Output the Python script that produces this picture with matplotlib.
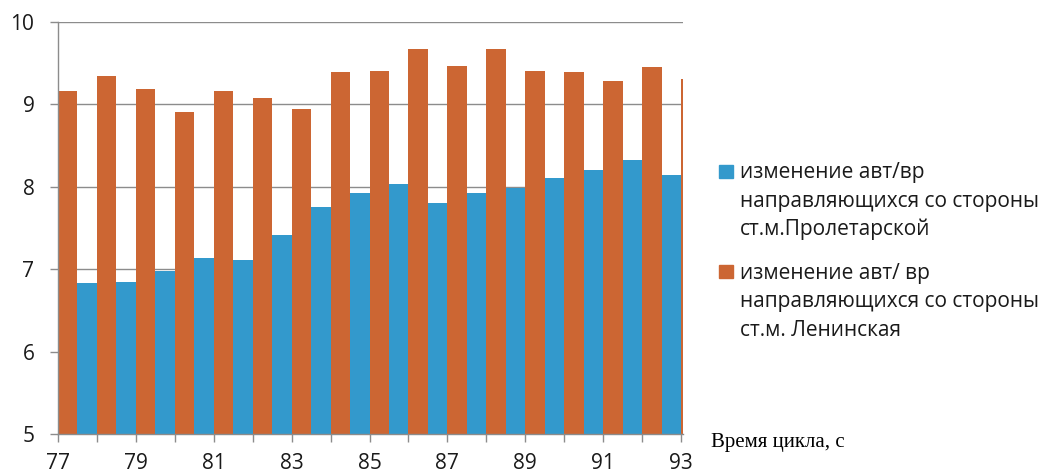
import matplotlib
matplotlib.use("Agg")
import matplotlib.pyplot as plt
from matplotlib.patches import Rectangle
import numpy as np

# время цикла, с
cycle_time = [77, 78, 79, 80, 81, 82, 83, 84, 85, 86, 87, 88, 89, 90, 91, 92, 93]

# со стороны ст.м. Пролетарской (первый столбец обрезан краем оси)
proletarskaya = [np.nan, 6.83, 6.84, 6.98, 7.14, 7.11, 7.42, 7.75, 7.92,
                 8.04, 7.80, 7.92, 7.99, 8.11, 8.20, 8.32, 8.14]
# со стороны ст.м. Ленинская
leninskaya = [9.16, 9.34, 9.19, 8.91, 9.16, 9.08, 8.94, 9.39, 9.41,
              9.67, 9.46, 9.67, 9.41, 9.39, 9.28, 9.45, 9.31]

x_ticks = [77, 79, 81, 83, 85, 87, 89, 91, 93]
y_ticks = [5, 6, 7, 8, 9, 10]

legend_labels = [
    ["изменение авт/вр", "направляющихся со стороны", "ст.м.Пролетарской"],
    ["изменение авт/ вр", "направляющихся со стороны", "ст.м. Ленинская"],
]

BLUE = "#3399cc"
ORANGE = "#cc6633"
GRID = "#8c8c8c"
TEXT = "#1a1a1a"

W, H = 1042, 472
fig = plt.figure(figsize=(W / 100, H / 100), dpi=100)


def fx(px):
    return px / W


def fy(py):
    return 1 - py / H


ax = fig.add_axes([fx(58), fy(434), fx(683) - fx(58), fy(22) - fy(434)])

x = np.array(cycle_time, dtype=float)
ax.bar(x - 0.25, proletarskaya, width=0.5, color=BLUE, zorder=2)
ax.bar(x + 0.25, leninskaya, width=0.5, color=ORANGE, zorder=2)

ax.set_xlim(77, 93.05)
ax.set_ylim(5, 10)
ax.set_yticks(y_ticks)
ax.set_xticks(x_ticks)
ax.set_xticks(cycle_time, minor=True)

ax.yaxis.grid(True, color=GRID, linewidth=1)
ax.set_axisbelow(True)
for side in ("top", "right"):
    ax.spines[side].set_visible(False)
for side in ("left", "bottom"):
    ax.spines[side].set_color(GRID)
    ax.spines[side].set_linewidth(1)

ax.tick_params(axis="both", which="both", direction="out", color=GRID,
               length=6, width=1, labelcolor=TEXT)
ax.tick_params(axis="x", pad=8)
ax.tick_params(axis="y", pad=11)
for lbl in ax.get_xticklabels() + ax.get_yticklabels():
    lbl.set_fontfamily("Open Sans")
    lbl.set_fontsize(15)

# подпись оси X справа от графика
fig.text(fx(711), fy(447), "Время цикла, с", family="Liberation Serif",
         fontsize=15, color="black", va="baseline", ha="left")

# легенда
colors = [BLUE, ORANGE]
for i, lines in enumerate(legend_labels):
    top = 165 + i * 100
    fig.add_artist(Rectangle((fx(719), fy(top + 13)), fx(14), 13 / H,
                             transform=fig.transFigure, color=colors[i]))
    for j, line in enumerate(lines):
        fig.text(fx(740), fy(178 + i * 101 + j * 28.5), line,
                 family="Open Sans", fontsize=15, color=TEXT,
                 va="baseline", ha="left")

fig.savefig("out.png", dpi=100)
